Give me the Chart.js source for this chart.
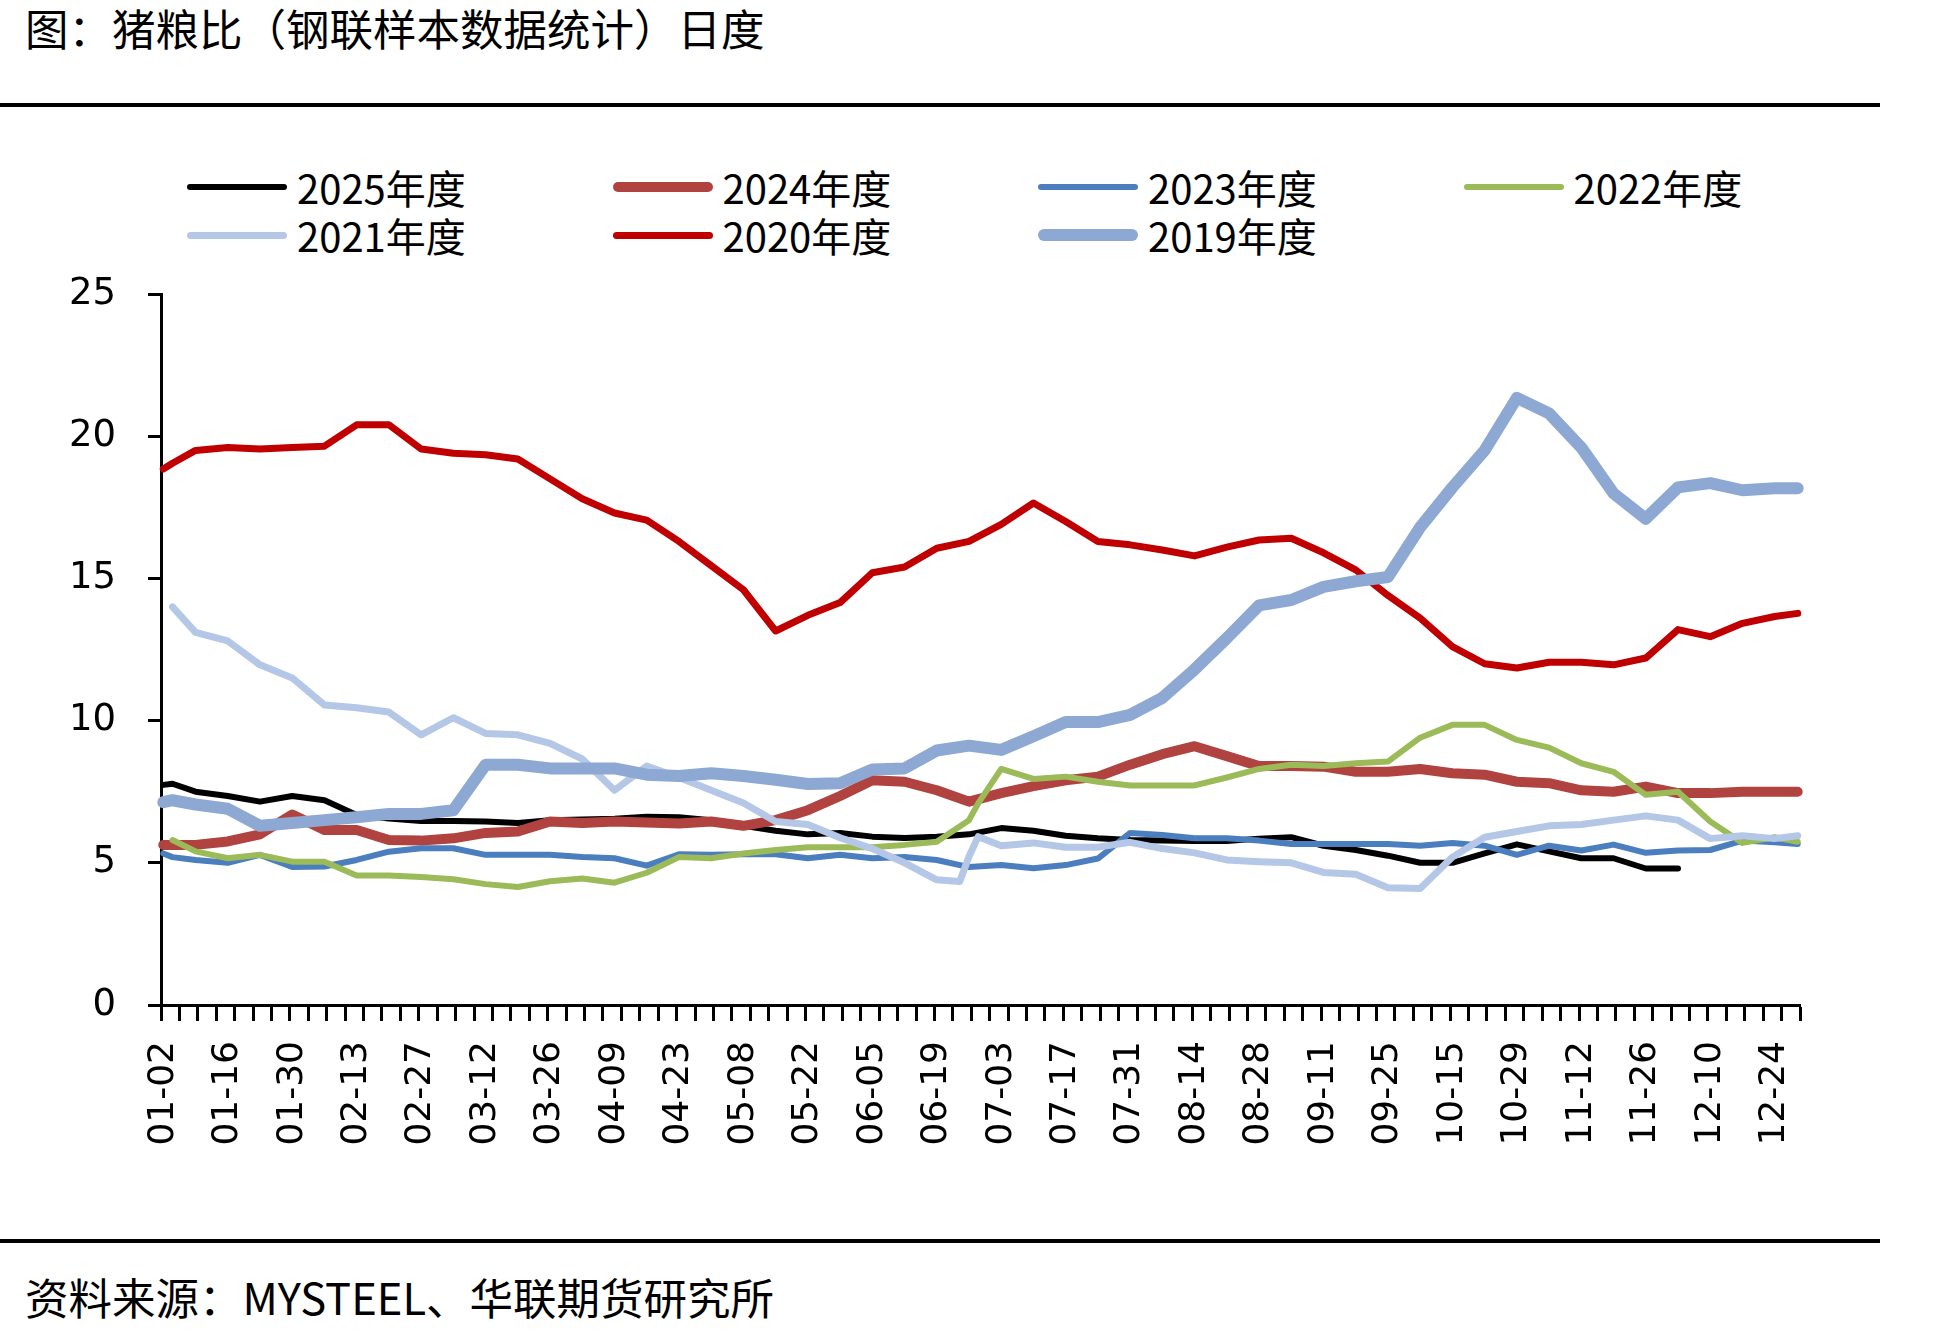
<!DOCTYPE html>
<html>
<head>
<meta charset="utf-8">
<script src="https://cdn.jsdelivr.net/npm/chart.js@4.4.0/dist/chart.umd.min.js"></script>
<style>
  body { margin:0; width:1946px; height:1333px; background:#fff; position:relative; overflow:hidden;
         font-family:"Noto Sans CJK SC", sans-serif; color:#000; }
  #title { position:absolute; left:25px; top:6px; font-size:43.5px; line-height:44px; white-space:nowrap; }
  #source { position:absolute; left:25px; top:1275px; font-size:43.5px; line-height:44px; white-space:nowrap; }
  .rule { position:absolute; left:0; width:1880px; height:4px; background:#000; }
  .item { position:absolute; height:48px; display:flex; align-items:center; font-size:40px; white-space:nowrap; }
  .swatch { width:100px; margin-right:10px; }
  #wrap { position:absolute; left:0; top:260px; line-height:0; }
</style>
</head>
<body>
<div id="title">图：猪粮比（钢联样本数据统计）日度</div>
<div class="rule" style="top:103px"></div>
<div id="legend"></div>
<div id="wrap"><canvas id="c" width="1865" height="960"></canvas></div>
<div class="rule" style="top:1239px"></div>
<div id="source">资料来源：MYSTEEL、华联期货研究所</div>
<script>
// series names, colours, line widths
var seriesNames = ['2025年度','2024年度','2023年度','2022年度','2021年度','2020年度','2019年度'];
var seriesColors = ['#000000','#B0433F','#4A7EBF','#9BBB59','#B4C7E7','#C00000','#8DA8D2'];
var seriesWidths = [6, 10, 6, 6, 7, 7, 12];

// days with no data in the source sheet
var missingDays = ['05-01','10-01','10-02','10-03','10-04','10-05','10-06'];

// dates where values were read off the chart (null = not read at that date)
var sampleDates = ['01-02','01-04','01-09','01-16','01-23','01-30','02-06','02-13','02-20','02-27',
  '03-05','03-12','03-19','03-26','04-02','04-09','04-16','04-23','04-30','05-08',
  '05-15','05-22','05-29','06-05','06-12','06-19','06-24','06-26','06-28','07-03','07-10','07-17',
  '07-24','07-31','08-07','08-14','08-21','08-28','09-04','09-11','09-18','09-25',
  '10-08','10-15','10-22','10-29','11-05','11-12','11-19','11-26','12-03','12-10',
  '12-17','12-24','12-29'];

var v2025 = [7.74,7.78,7.5,7.35,7.15,7.35,7.2,6.68,6.56,6.47,
  6.47,6.45,6.4,6.5,6.52,6.55,6.62,6.6,6.5,6.3,
  6.13,6.0,6.05,5.92,5.87,5.92,null,6.0,null,6.22,6.13,5.95,
  5.86,5.8,5.78,5.77,5.77,5.85,5.9,5.6,5.45,5.25,
  5.0,5.0,5.33,5.65,5.4,5.16,5.16,4.8,4.8,null,
  null,null,null];
var v2024 = [5.63,5.63,5.63,5.75,6.0,6.7,6.15,6.15,5.8,5.78,
  5.86,6.05,6.1,6.45,6.4,6.45,6.42,6.38,6.45,6.3,
  6.5,6.85,7.35,7.9,7.85,7.55,null,7.15,null,7.45,7.7,7.9,
  8.03,8.45,8.82,9.1,8.75,8.4,8.4,8.38,8.2,8.2,
  8.3,8.15,8.1,7.85,7.8,7.55,7.5,7.68,7.45,7.45,
  7.5,7.5,7.5];
var v2023 = [5.33,5.2,5.1,5.0,5.28,4.85,4.87,5.1,5.39,5.51,
  5.51,5.28,5.28,5.28,5.2,5.16,4.9,5.3,5.28,5.3,
  5.3,5.16,5.28,5.16,5.2,5.1,null,4.85,null,4.92,4.81,4.92,
  5.15,6.05,5.98,5.86,5.86,5.78,5.66,5.66,5.66,5.66,
  5.6,5.7,5.6,5.28,5.6,5.43,5.64,5.35,5.43,5.45,
  5.78,5.72,5.66];
var v2022 = [null,5.8,5.4,5.16,5.28,5.04,5.04,4.55,4.55,4.5,
  4.42,4.25,4.15,4.35,4.45,4.3,4.65,5.2,5.16,5.33,
  5.45,5.55,5.55,5.55,5.63,5.74,null,6.5,7.09,8.3,7.95,8.03,
  7.85,7.72,7.72,7.72,8.0,8.3,8.45,8.4,8.5,8.56,
  9.4,9.85,9.85,9.32,9.05,8.5,8.2,7.39,7.5,6.45,
  5.7,5.9,5.74];
var v2021 = [null,14.0,13.1,12.8,11.96,11.5,10.55,10.45,10.3,9.5,
  10.1,9.55,9.5,9.2,8.65,7.55,8.4,8.0,7.55,7.1,
  6.45,6.35,5.88,5.5,5.0,4.4,4.34,5.22,5.92,5.6,5.7,5.55,
  5.55,5.72,5.5,5.35,5.1,5.04,5.0,4.66,4.6,4.12,
  4.1,5.2,5.9,6.1,6.3,6.35,6.5,6.65,6.5,5.85,
  5.95,5.85,5.95];
var v2020 = [18.85,19.05,19.5,19.6,19.55,19.6,19.65,20.4,20.4,19.55,
  19.4,19.35,19.2,18.5,17.8,17.3,17.05,16.3,15.45,14.6,
  13.15,13.7,14.15,15.2,15.4,16.06,null,16.3,null,16.9,17.65,17.0,
  16.3,16.18,16.0,15.79,16.1,16.35,16.41,15.9,15.3,14.4,
  13.6,12.6,12.0,11.85,12.05,12.05,11.96,12.2,13.2,12.95,
  13.42,13.66,13.77];
var v2019 = [7.13,7.2,7.05,6.9,6.3,6.4,6.5,6.6,6.72,6.72,
  6.85,8.45,8.45,8.32,8.32,8.32,8.1,8.05,8.15,8.05,
  7.92,7.77,7.8,8.28,8.32,8.95,null,9.12,null,8.97,9.45,9.95,
  9.95,10.2,10.8,11.8,12.9,14.05,14.24,14.7,14.9,15.05,
  16.8,18.2,19.5,21.35,20.8,19.6,17.99,17.1,18.2,18.35,
  18.1,18.17,18.17];

var seriesValues = [v2025, v2024, v2023, v2022, v2021, v2020, v2019];

// y axis ticks
var yMin = 0, yMax = 25, yStep = 5;

// category axis: every day of the (leap) year that has a row, 01-02 .. 12-29
var monthLen = [31,29,31,30,31,30,31,31,30,31,30,31];
var categories = [];
for (var m = 0; m < 12; m++) {
  for (var d = 1; d <= monthLen[m]; d++) {
    var s = String(m + 1).padStart(2, '0') + '-' + String(d).padStart(2, '0');
    if (s < '01-02' || s > '12-29' || missingDays.indexOf(s) >= 0) continue;
    categories.push(s);
  }
}

var datasets = seriesNames.map(function(name, i) {
  return {
    label: name,
    data: sampleDates.map(function(dt, j) { return {x: dt, y: seriesValues[i][j]}; }),
    borderColor: seriesColors[i],
    backgroundColor: seriesColors[i],
    borderWidth: seriesWidths[i],
    pointRadius: 0,
    tension: 0,
    spanGaps: true,
    borderJoinStyle: 'round',
    borderCapStyle: 'round',
    order: seriesNames.length - i   // later years drawn on top, like the excel sheet
  };
});

Chart.defaults.font.family = '"DejaVu Sans", sans-serif';
Chart.defaults.color = '#000';

var chart = new Chart(document.getElementById('c').getContext('2d'), {
  type: 'line',
  data: { labels: categories, datasets: datasets },
  options: {
    responsive: false,
    animation: false,
    layout: { padding: { top: 34, right: 65, left: 0, bottom: 0 } },
    plugins: { legend: { display: false }, tooltip: { enabled: false } },
    scales: {
      x: {
        type: 'category',
        offset: true,
        border: { display: true, color: '#000', width: 3 },
        grid: {
          offset: true,
          drawOnChartArea: false,
          drawTicks: true,
          tickLength: 16,
          tickWidth: 3,
          tickColor: function(ctx) {
            var i = ctx.index === undefined ? categories.length : ctx.index;
            return i % 4 === 0 ? '#000' : 'rgba(0,0,0,0)';
          }
        },
        ticks: {
          autoSkip: false,
          minRotation: 90,
          maxRotation: 90,
          padding: 20,
          font: { size: 36 },
          callback: function(value, index) { return index % 14 === 0 ? categories[index] : ''; }
        },
        afterFit: function(scale) {
          scale.height = 215;
          scale.paddingLeft = 0;
          scale.paddingRight = 0;
        }
      },
      y: {
        min: yMin,
        max: yMax,
        border: { display: true, color: '#000', width: 3 },
        grid: { drawOnChartArea: false, drawTicks: true, tickLength: 13, tickWidth: 3, tickColor: '#000' },
        ticks: { stepSize: yStep, padding: 32, font: { size: 37 } },
        afterFit: function(scale) {
          scale.width = 161;
          scale.paddingTop = 0;
          scale.paddingBottom = 0;
        }
      }
    }
  }
});

// legend laid out like the excel one: 4 columns, 2 rows
var legend = document.getElementById('legend');
chart.data.datasets.forEach(function(ds, i) {
  var col = i % 4, row = Math.floor(i / 4);
  var item = document.createElement('div');
  item.className = 'item';
  item.style.left = (187 + col * 425.5) + 'px';
  item.style.top = (163 + row * 48) + 'px';
  var sw = document.createElement('div');
  sw.className = 'swatch';
  sw.style.height = ds.borderWidth + 'px';
  sw.style.borderRadius = (ds.borderWidth / 2) + 'px';
  sw.style.background = ds.borderColor;
  var txt = document.createElement('span');
  txt.textContent = ds.label;
  item.appendChild(sw);
  item.appendChild(txt);
  legend.appendChild(item);
});
</script>
</body>
</html>
